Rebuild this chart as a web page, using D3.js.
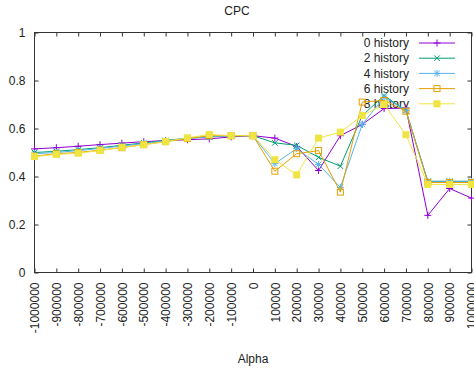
<!DOCTYPE html>
<html lang="en">
<head>
<meta charset="UTF-8">
<title>CPC</title>
<script src="https://d3js.org/d3.v7.min.js"></script>
<style>
  body { margin: 0; background: #fff; }
  text { font-family: "Liberation Sans", Arial, sans-serif; font-size: 12px; fill: #222; }
</style>
</head>
<body>
<script>
  // x categories (Alpha)
  var alphas = [-1000000, -900000, -800000, -700000, -600000, -500000, -400000, -300000, -200000, -100000, 0,
                100000, 200000, 300000, 400000, 500000, 600000, 700000, 800000, 900000, 1000000];
  var yTicks = [0, 0.2, 0.4, 0.6, 0.8, 1];
  var seriesNames = ["0 history", "2 history", "4 history", "6 history", "8 history"];

  var h0 = [0.515, 0.52, 0.526, 0.533, 0.539, 0.545, 0.55, 0.553, 0.557, 0.565, 0.57, 0.56, 0.525, 0.425, 0.57, 0.617, 0.683, 0.685, 0.238, 0.35, 0.31];
  var h2 = [0.50, 0.505, 0.512, 0.52, 0.53, 0.54, 0.55, 0.56, 0.565, 0.57, 0.57, 0.54, 0.53, 0.48, 0.443, 0.654, 0.737, 0.675, 0.38, 0.38, 0.38];
  var h4 = [0.495, 0.50, 0.508, 0.517, 0.527, 0.537, 0.548, 0.558, 0.565, 0.57, 0.57, 0.454, 0.516, 0.45, 0.355, 0.617, 0.73, 0.675, 0.38, 0.38, 0.38];
  var h6 = [0.485, 0.495, 0.50, 0.51, 0.52, 0.533, 0.545, 0.558, 0.57, 0.57, 0.57, 0.422, 0.495, 0.508, 0.335, 0.71, 0.717, 0.672, 0.375, 0.375, 0.375];
  var h8 = [0.483, 0.492, 0.497, 0.508, 0.522, 0.532, 0.546, 0.561, 0.575, 0.57, 0.57, 0.47, 0.407, 0.56, 0.585, 0.654, 0.70, 0.574, 0.367, 0.367, 0.367];

  var colors = ["#9400d3", "#009e73", "#56b4e9", "#e69f00", "#f0e442"];
  var symbols = ["plus", "cross", "star", "box", "fbox"];

  var width = 474, height = 374;
  var pLeft = 34.5, pRight = 471.5, pTop = 32.5, pBottom = 272.5;

  var svg = d3.select("body").append("svg").attr("width", width).attr("height", height);

  var x = d3.scaleLinear().domain([-1000000, 1000000]).range([pLeft, pRight]);
  var y = d3.scaleLinear().domain([0, 1]).range([pBottom, pTop]);

  // title and axis label
  svg.append("text").attr("x", width / 2).attr("y", 15).attr("text-anchor", "middle").text("CPC");
  svg.append("text").attr("x", (pLeft + pRight) / 2).attr("y", 363).attr("text-anchor", "middle").text("Alpha");

  // axes (ticks point inward)
  svg.append("g").attr("transform", "translate(" + pLeft + ",0)")
    .call(d3.axisLeft(y).tickValues(yTicks).tickSizeInner(-4).tickSizeOuter(0).tickPadding(9).tickFormat(function (d) { return String(d); }));
  svg.append("g").attr("transform", "translate(" + pRight + ",0)")
    .call(d3.axisRight(y).tickValues(yTicks).tickSizeInner(-4).tickSizeOuter(0).tickFormat(""));
  var xAxis = svg.append("g").attr("transform", "translate(0," + pBottom + ")")
    .call(d3.axisBottom(x).tickValues(alphas).tickSizeInner(-4).tickSizeOuter(0).tickFormat(function (d) { return String(d); }));
  svg.append("g").attr("transform", "translate(0," + pTop + ")")
    .call(d3.axisTop(x).tickValues(alphas).tickSizeInner(-4).tickSizeOuter(0).tickFormat(""));

  svg.selectAll(".domain").remove();
  svg.selectAll(".tick line").attr("stroke", "#333");
  svg.selectAll(".tick text").attr("fill", "#222").style("font-family", "Liberation Sans, Arial, sans-serif").style("font-size", "12px");

  xAxis.selectAll(".tick text")
    .attr("transform", "rotate(-90)")
    .attr("x", -10).attr("y", 0).attr("dy", "0.35em")
    .style("text-anchor", "end");

  // border
  svg.append("rect").attr("x", pLeft).attr("y", pTop).attr("width", pRight - pLeft).attr("height", pBottom - pTop)
    .attr("fill", "none").attr("stroke", "#333").attr("stroke-width", 1);

  function drawPoint(g, type, cx, cy, color) {
    var s = 3.5;
    if (type === "plus" || type === "star") {
      g.append("path").attr("d", "M" + (cx - s) + "," + cy + "H" + (cx + s) + "M" + cx + "," + (cy - s) + "V" + (cy + s))
        .attr("stroke", color).attr("fill", "none");
    }
    if (type === "cross" || type === "star") {
      var c = 2.8;
      g.append("path").attr("d", "M" + (cx - c) + "," + (cy - c) + "L" + (cx + c) + "," + (cy + c) + "M" + (cx - c) + "," + (cy + c) + "L" + (cx + c) + "," + (cy - c))
        .attr("stroke", color).attr("fill", "none");
    }
    if (type === "box") {
      g.append("rect").attr("x", cx - 3).attr("y", cy - 3).attr("width", 6).attr("height", 6)
        .attr("stroke", color).attr("fill", "none");
    }
    if (type === "fbox") {
      g.append("rect").attr("x", cx - 3.5).attr("y", cy - 3.5).attr("width", 7).attr("height", 7)
        .attr("fill", color);
    }
  }

  // legend
  var legendY = 43, legendStep = 15.2;
  seriesNames.forEach(function (name, i) {
    var ly = legendY + i * legendStep;
    svg.append("text").attr("x", 409).attr("y", ly).attr("dy", "0.35em").attr("text-anchor", "end").text(name);
    var g = svg.append("g");
    g.append("line").attr("x1", 419).attr("x2", 455).attr("y1", ly).attr("y2", ly)
      .attr("stroke", colors[i]).attr("stroke-width", 1);
    drawPoint(g, symbols[i], 437, ly, colors[i]);
  });

  // series
  var allSeries = [h0, h2, h4, h6, h8];
  var line = d3.line().x(function (d, i) { return x(alphas[i]); }).y(function (d) { return y(d); });

  allSeries.forEach(function (vals, k) {
    var g = svg.append("g");
    g.append("path").datum(vals).attr("d", line)
      .attr("fill", "none").attr("stroke", colors[k]).attr("stroke-width", 1);
    vals.forEach(function (v, i) {
      drawPoint(g, symbols[k], x(alphas[i]), y(v), colors[k]);
    });
  });
</script>
</body>
</html>
